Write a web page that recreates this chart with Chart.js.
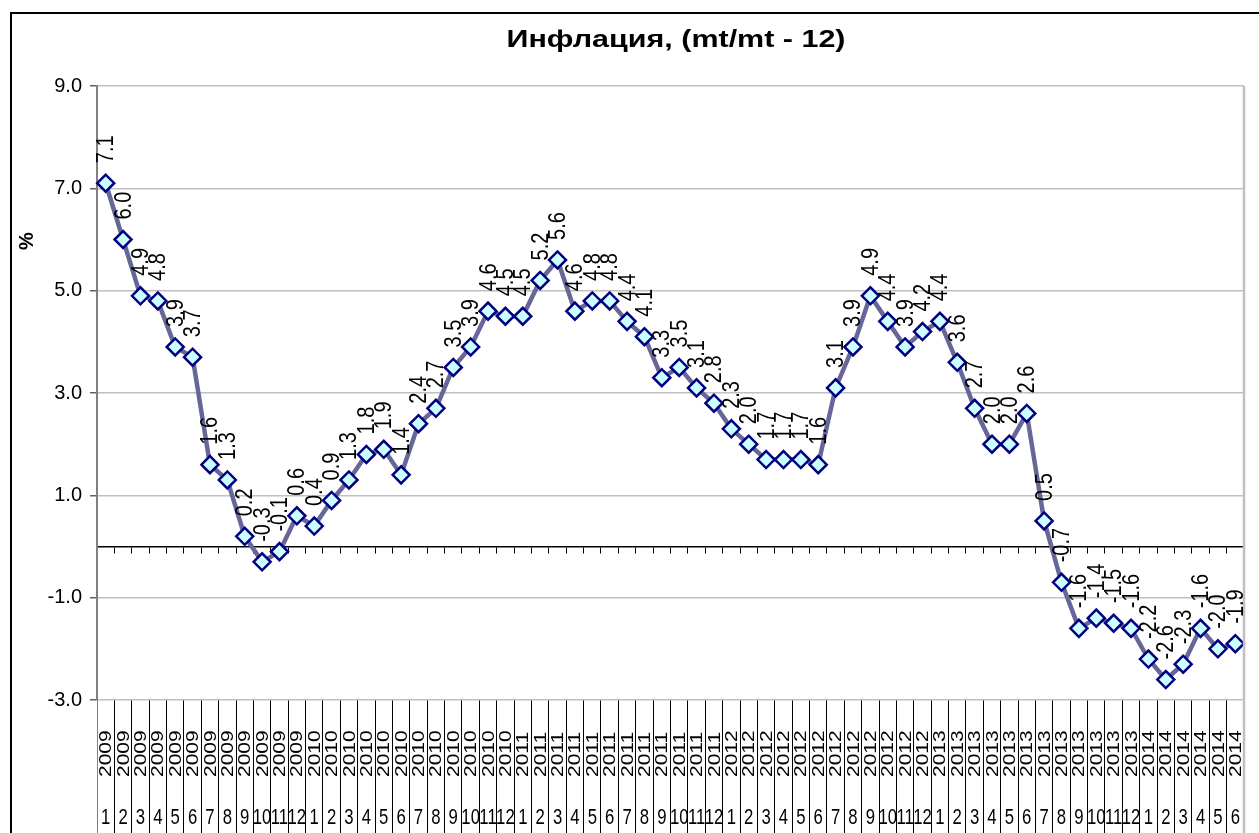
<!DOCTYPE html>
<html>
<head>
<meta charset="utf-8">
<script src="https://cdn.jsdelivr.net/npm/chart.js@4/dist/chart.umd.min.js"></script>
<style>
html,body{margin:0;padding:0;background:#fff;overflow:hidden;}
#wrap{position:relative;width:1259px;height:833px;}
</style>
</head>
<body>
<div id="wrap"><canvas id="c" width="1259" height="833"></canvas></div>
<script>
const chartTitle = 'Инфлация, (mt/mt - 12)';
const yAxisTitle = '%';
const yearLabels = [
  '2009','2009','2009','2009','2009','2009','2009','2009','2009','2009','2009','2009',
  '2010','2010','2010','2010','2010','2010','2010','2010','2010','2010','2010','2010',
  '2011','2011','2011','2011','2011','2011','2011','2011','2011','2011','2011','2011',
  '2012','2012','2012','2012','2012','2012','2012','2012','2012','2012','2012','2012',
  '2013','2013','2013','2013','2013','2013','2013','2013','2013','2013','2013','2013',
  '2014','2014','2014','2014','2014','2014'
];
const monthLabels = [
  '1','2','3','4','5','6','7','8','9','10','11','12',
  '1','2','3','4','5','6','7','8','9','10','11','12',
  '1','2','3','4','5','6','7','8','9','10','11','12',
  '1','2','3','4','5','6','7','8','9','10','11','12',
  '1','2','3','4','5','6','7','8','9','10','11','12',
  '1','2','3','4','5','6'
];
const inflation = [
  7.1, 6.0, 4.9, 4.8, 3.9, 3.7, 1.6, 1.3, 0.2, -0.3, -0.1, 0.6,
  0.4, 0.9, 1.3, 1.8, 1.9, 1.4, 2.4, 2.7, 3.5, 3.9, 4.6, 4.5,
  4.5, 5.2, 5.6, 4.6, 4.8, 4.8, 4.4, 4.1, 3.3, 3.5, 3.1, 2.8,
  2.3, 2.0, 1.7, 1.7, 1.7, 1.6, 3.1, 3.9, 4.9, 4.4, 3.9, 4.2,
  4.4, 3.6, 2.7, 2.0, 2.0, 2.6, 0.5, -0.7, -1.6, -1.4, -1.5, -1.6,
  -2.2, -2.6, -2.3, -1.6, -2.0, -1.9
];
const yMin = -3, yMax = 9, yStep = 2;

const FONT = "'Liberation Sans', Arial, sans-serif";

const decor = {
  id: 'decor',
  beforeDraw(chart) {
    const ctx = chart.ctx;
    ctx.save();
    ctx.fillStyle = '#fff';
    ctx.fillRect(0, 0, chart.width, chart.height);
    ctx.strokeStyle = '#000';
    ctx.lineWidth = 2;
    ctx.beginPath();
    ctx.moveTo(11, chart.height);
    ctx.lineTo(11, 13);
    ctx.lineTo(chart.width, 13);
    ctx.stroke();
    ctx.restore();
  },
  afterDraw(chart) {
    const ctx = chart.ctx;
    const area = chart.chartArea;
    const xs = chart.scales.x;
    ctx.save();
    // right edge of plot area
    ctx.strokeStyle = '#c0c0c0';
    ctx.lineWidth = 2.5;
    ctx.beginPath();
    ctx.moveTo(area.right, area.top);
    ctx.lineTo(area.right, chart.height);
    ctx.stroke();

    // data labels (rotated)
    ctx.fillStyle = '#000';
    ctx.font = '20px ' + FONT;
    const meta = chart.getDatasetMeta(0);
    meta.data.forEach((pt, i) => {
      ctx.save();
      ctx.translate(pt.x, pt.y - 20);
      ctx.scale(1.15, 1);
      ctx.rotate(-Math.PI / 2);
      ctx.textAlign = 'left';
      ctx.textBaseline = 'middle';
      ctx.fillText(inflation[i].toFixed(1), 0, 1);
      ctx.restore();
    });

    // category labels
    for (let i = 0; i < yearLabels.length; i++) {
      const px = xs.getPixelForValue(i);
      ctx.save();
      ctx.font = '21px ' + FONT;
      ctx.translate(px, 777);
      ctx.scale(0.82, 1);
      ctx.rotate(-Math.PI / 2);
      ctx.textAlign = 'left';
      ctx.textBaseline = 'middle';
      ctx.fillText(yearLabels[i], 0, 1);
      ctx.restore();
      ctx.save();
      ctx.font = '22px ' + FONT;
      ctx.translate(px, 818);
      ctx.scale(0.76, 1);
      ctx.textAlign = 'center';
      ctx.textBaseline = 'middle';
      ctx.fillText(monthLabels[i], 0, 0);
      ctx.restore();
    }

    // title
    ctx.save();
    ctx.font = 'bold 24px ' + FONT;
    ctx.textAlign = 'center';
    ctx.textBaseline = 'middle';
    ctx.translate(676, 40);
    ctx.scale(1.27, 1);
    ctx.fillText(chartTitle, 0, 0);
    ctx.restore();

    // y axis title
    ctx.save();
    ctx.translate(27, 241);
    ctx.rotate(-Math.PI / 2);
    ctx.font = 'bold 20px ' + FONT;
    ctx.textAlign = 'center';
    ctx.textBaseline = 'middle';
    ctx.fillText(yAxisTitle, 0, 0);
    ctx.restore();

    ctx.restore();
  }
};

const labels = yearLabels.map((y, i) => y + '-' + monthLabels[i]);

new Chart(document.getElementById('c'), {
  type: 'line',
  data: {
    labels: labels,
    datasets: [{
      data: inflation,
      borderColor: '#666699',
      borderWidth: 4.5,
      pointStyle: 'rectRot',
      pointRadius: 8.5,
      pointBackgroundColor: '#CCFFFF',
      pointBorderColor: '#000080',
      pointBorderWidth: 2.5,
      tension: 0,
      clip: false
    }]
  },
  options: {
    responsive: false,
    animation: false,
    devicePixelRatio: 1,
    layout: { padding: { top: 86, right: 15, left: 0, bottom: 0 } },
    plugins: { legend: { display: false }, title: { display: false }, tooltip: { enabled: false } },
    scales: {
      x: {
        type: 'category',
        position: 'bottom',
        offset: true,
        afterFit(s) { s.height = 133; },
        grid: {
          offset: true,
          drawOnChartArea: false,
          drawTicks: true,
          tickLength: 140,
          color: (c) => (c.type !== 'tick' || c.index === 0) ? '#808080' : '#000',
          lineWidth: 1
        },
        border: { display: false },
        ticks: { display: false, autoSkip: false }
      },
      x0: {
        type: 'category',
        position: { y: 0 },
        offset: true,
        grid: {
          offset: true,
          drawOnChartArea: false,
          drawTicks: true,
          tickLength: 6,
          color: '#000',
          lineWidth: 1
        },
        border: { display: true, color: '#000', width: 1.5 },
        ticks: { display: false, autoSkip: false }
      },
      y: {
        type: 'linear',
        position: 'left',
        min: yMin,
        max: yMax,
        afterFit(s) { s.width = 97; },
        ticks: {
          stepSize: yStep,
          color: '#000',
          font: { size: 20, family: FONT },
          padding: 8,
          callback: (v) => Number(v).toFixed(1)
        },
        grid: {
          color: '#c0c0c0',
          lineWidth: 1.5,
          drawTicks: true,
          tickLength: 7,
          tickColor: '#606060'
        },
        border: { display: true, color: '#808080', width: 2 }
      }
    }
  },
  plugins: [decor]
});
</script>
</body>
</html>
